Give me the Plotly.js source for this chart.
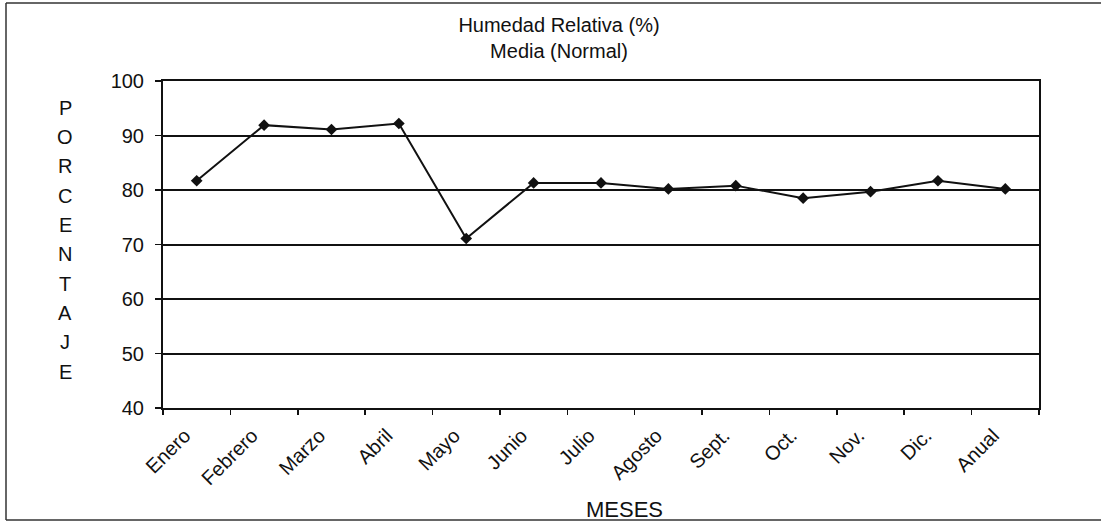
<!DOCTYPE html>
<html>
<head>
<meta charset="utf-8">
<script src="https://cdn.plot.ly/plotly-3.0.1.min.js"></script>
<style>html,body{margin:0;padding:0;background:#fff;}#chart{width:1101px;height:522px;}</style>
</head>
<body>
<div id="chart"></div>
<script>
const meses = ["Enero","Febrero","Marzo","Abril","Mayo","Junio","Julio","Agosto","Sept.","Oct.","Nov.","Dic.","Anual"];
const humedad = [81.7, 91.9, 91.1, 92.2, 71.1, 81.3, 81.3, 80.2, 80.8, 78.5, 79.7, 81.7, 80.2];
const yTicks = [40, 50, 60, 70, 80, 90, 100];
const tituloY = "PORCENTAJE";

const FONT = "Liberation Sans, Arial, sans-serif";
const W = 1101, H = 522, L = 163, R = 62, T = 81, B = 114;
const pw = W - L - R, ph = H - T - B;
const px = x => (x - L) / pw;
const py = y => (H - B - y) / ph;

const annotations = [];
tituloY.split("").forEach((ch, i) => {
  annotations.push({
    text: ch, xref: "paper", yref: "paper",
    x: px(65), y: py(107.5 + i * 29.36),
    xanchor: "center", yanchor: "middle", showarrow: false,
    font: {family: FONT, size: 20, color: "#111"}
  });
});
annotations.push({
  text: "MESES", xref: "paper", yref: "paper",
  x: px(624), y: py(509), xanchor: "center", yanchor: "middle",
  showarrow: false, font: {family: FONT, size: 22, color: "#111"}
});

const frame = {color: "#333", width: 1.5};
const shapes = [
  {type: "line", xref: "paper", yref: "paper", x0: px(6), x1: px(1101), y0: py(3), y1: py(3), line: frame},
  {type: "line", xref: "paper", yref: "paper", x0: px(6), x1: px(6), y0: py(3), y1: py(520), line: frame},
  {type: "line", xref: "paper", yref: "paper", x0: px(6), x1: px(1101), y0: py(520), y1: py(520), line: frame}
];

Plotly.newPlot("chart", [{
  x: meses, y: humedad, type: "scatter", mode: "lines+markers",
  line: {color: "#111", width: 2},
  marker: {symbol: "diamond", size: 9, color: "#111"},
  hoverinfo: "x+y"
}], {
  width: W, height: H,
  margin: {l: L, r: R, t: T, b: B, pad: 0},
  paper_bgcolor: "#fff", plot_bgcolor: "#fff",
  showlegend: false,
  title: {
    text: "Humedad Relativa (%)<br>Media (Normal)",
    xref: "container", yref: "container",
    x: 559 / W, xanchor: "center", y: 1 - 32 / H, yanchor: "top",
    font: {family: FONT, size: 20, color: "#111"}
  },
  xaxis: {
    type: "category", range: [-0.5, meses.length - 0.5], autorange: false,
    tickangle: -45, tickson: "boundaries",
    ticks: "outside", ticklen: 5, tickwidth: 1.5, tickcolor: "#111",
    showline: true, linecolor: "#111", linewidth: 2, mirror: true,
    showgrid: false, zeroline: false,
    ticklabelshift: -12, ticklabelstandoff: 6,
    tickfont: {family: FONT, size: 20, color: "#111"}
  },
  yaxis: {
    range: [40, 100], autorange: false, tickvals: yTicks, ticktext: yTicks.map(String),
    ticks: "outside", ticklen: 6, tickwidth: 1.5, tickcolor: "#111",
    showline: true, linecolor: "#111", linewidth: 2, mirror: true,
    showgrid: true, gridcolor: "#111", gridwidth: 2, zeroline: false,
    ticklabelstandoff: 7,
    tickfont: {family: FONT, size: 20, color: "#111"}
  },
  annotations: annotations,
  shapes: shapes
}, {displayModeBar: false, staticPlot: true});
</script>
</body>
</html>
